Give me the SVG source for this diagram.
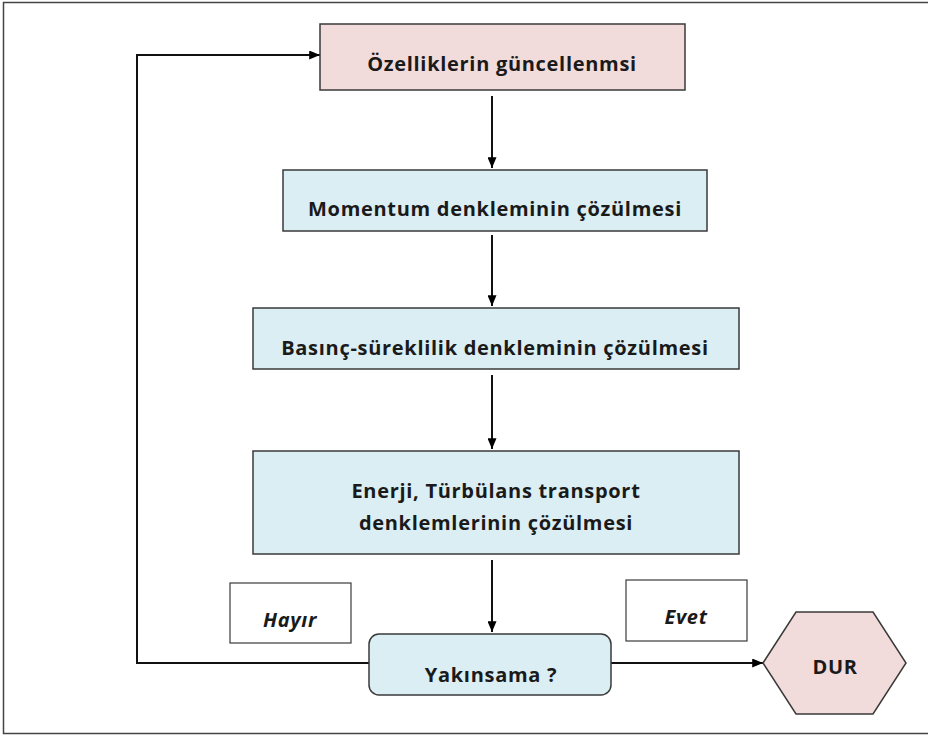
<svg xmlns="http://www.w3.org/2000/svg" width="928" height="738" viewBox="0 0 928 738">
  <defs>
    <marker id="arrow" viewBox="0 0 12 10" refX="12" refY="5" markerWidth="11" markerHeight="9" markerUnits="userSpaceOnUse" orient="auto">
      <path d="M0,0 L12,5 L0,10 z" fill="#000"/>
    </marker>
    <style>
      .frame { fill: #fff; stroke: #444; stroke-width: 1.5; }
      .pink { fill: #f2dcdb; stroke: #3a3a3a; stroke-width: 1.5; }
      .blue { fill: #dbeef4; stroke: #3a3a3a; stroke-width: 1.5; }
      .label { fill: #fff; stroke: #3a3a3a; stroke-width: 1.2; }
      .txt { font-family: "Open Sans", "Liberation Sans", sans-serif; font-weight: bold; font-size: 20px; letter-spacing: 0.7px; fill: #1a1a1a; text-anchor: middle; }
      .ital { font-style: italic; }
      .conn { fill: none; stroke: #111; stroke-width: 2; }
    </style>
  </defs>

  <rect class="frame" x="3.5" y="2.5" width="930" height="731"/>

  <g id="connectors">
    <path class="conn" d="M369,663 H137 V55 H320" marker-end="url(#arrow)"/>
    <path class="conn" d="M492,96 V168" marker-end="url(#arrow)"/>
    <path class="conn" d="M492,235 V306" marker-end="url(#arrow)"/>
    <path class="conn" d="M492,375 V449" marker-end="url(#arrow)"/>
    <path class="conn" d="M492,560 V632" marker-end="url(#arrow)"/>
    <path class="conn" d="M611,663 H763" marker-end="url(#arrow)"/>
  </g>

  <g id="update">
    <rect class="pink" x="320" y="24" width="365" height="66"/>
    <text class="txt" x="502" y="71">Özelliklerin güncellenmsi</text>
  </g>

  <g id="momentum">
    <rect class="blue" x="283" y="170" width="424" height="61"/>
    <text class="txt" x="495" y="216">Momentum denkleminin çözülmesi</text>
  </g>

  <g id="pressure">
    <rect class="blue" x="253" y="308" width="486" height="61"/>
    <text class="txt" x="495" y="355">Basınç-süreklilik denkleminin çözülmesi</text>
  </g>

  <g id="energy">
    <rect class="blue" x="253" y="451" width="486" height="103"/>
    <text class="txt" x="496" y="498">Enerji, Türbülans transport</text>
    <text class="txt" x="496" y="530">denklemlerinin çözülmesi</text>
  </g>

  <g id="no-label">
    <rect class="label" x="230" y="583" width="121" height="60"/>
    <text class="txt ital" x="290" y="627">Hayır</text>
  </g>

  <g id="yes-label">
    <rect class="label" x="626" y="580" width="121" height="61"/>
    <text class="txt ital" x="686" y="624">Evet</text>
  </g>

  <g id="convergence">
    <rect class="blue" x="369" y="634" width="242" height="61" rx="10" ry="10"/>
    <text class="txt" x="491" y="682">Yakınsama ?</text>
  </g>

  <g id="stop">
    <polygon class="pink" points="763,663 796,612 873,612 906,663 873,714 796,714"/>
    <text class="txt" x="835" y="674">DUR</text>
  </g>
</svg>
